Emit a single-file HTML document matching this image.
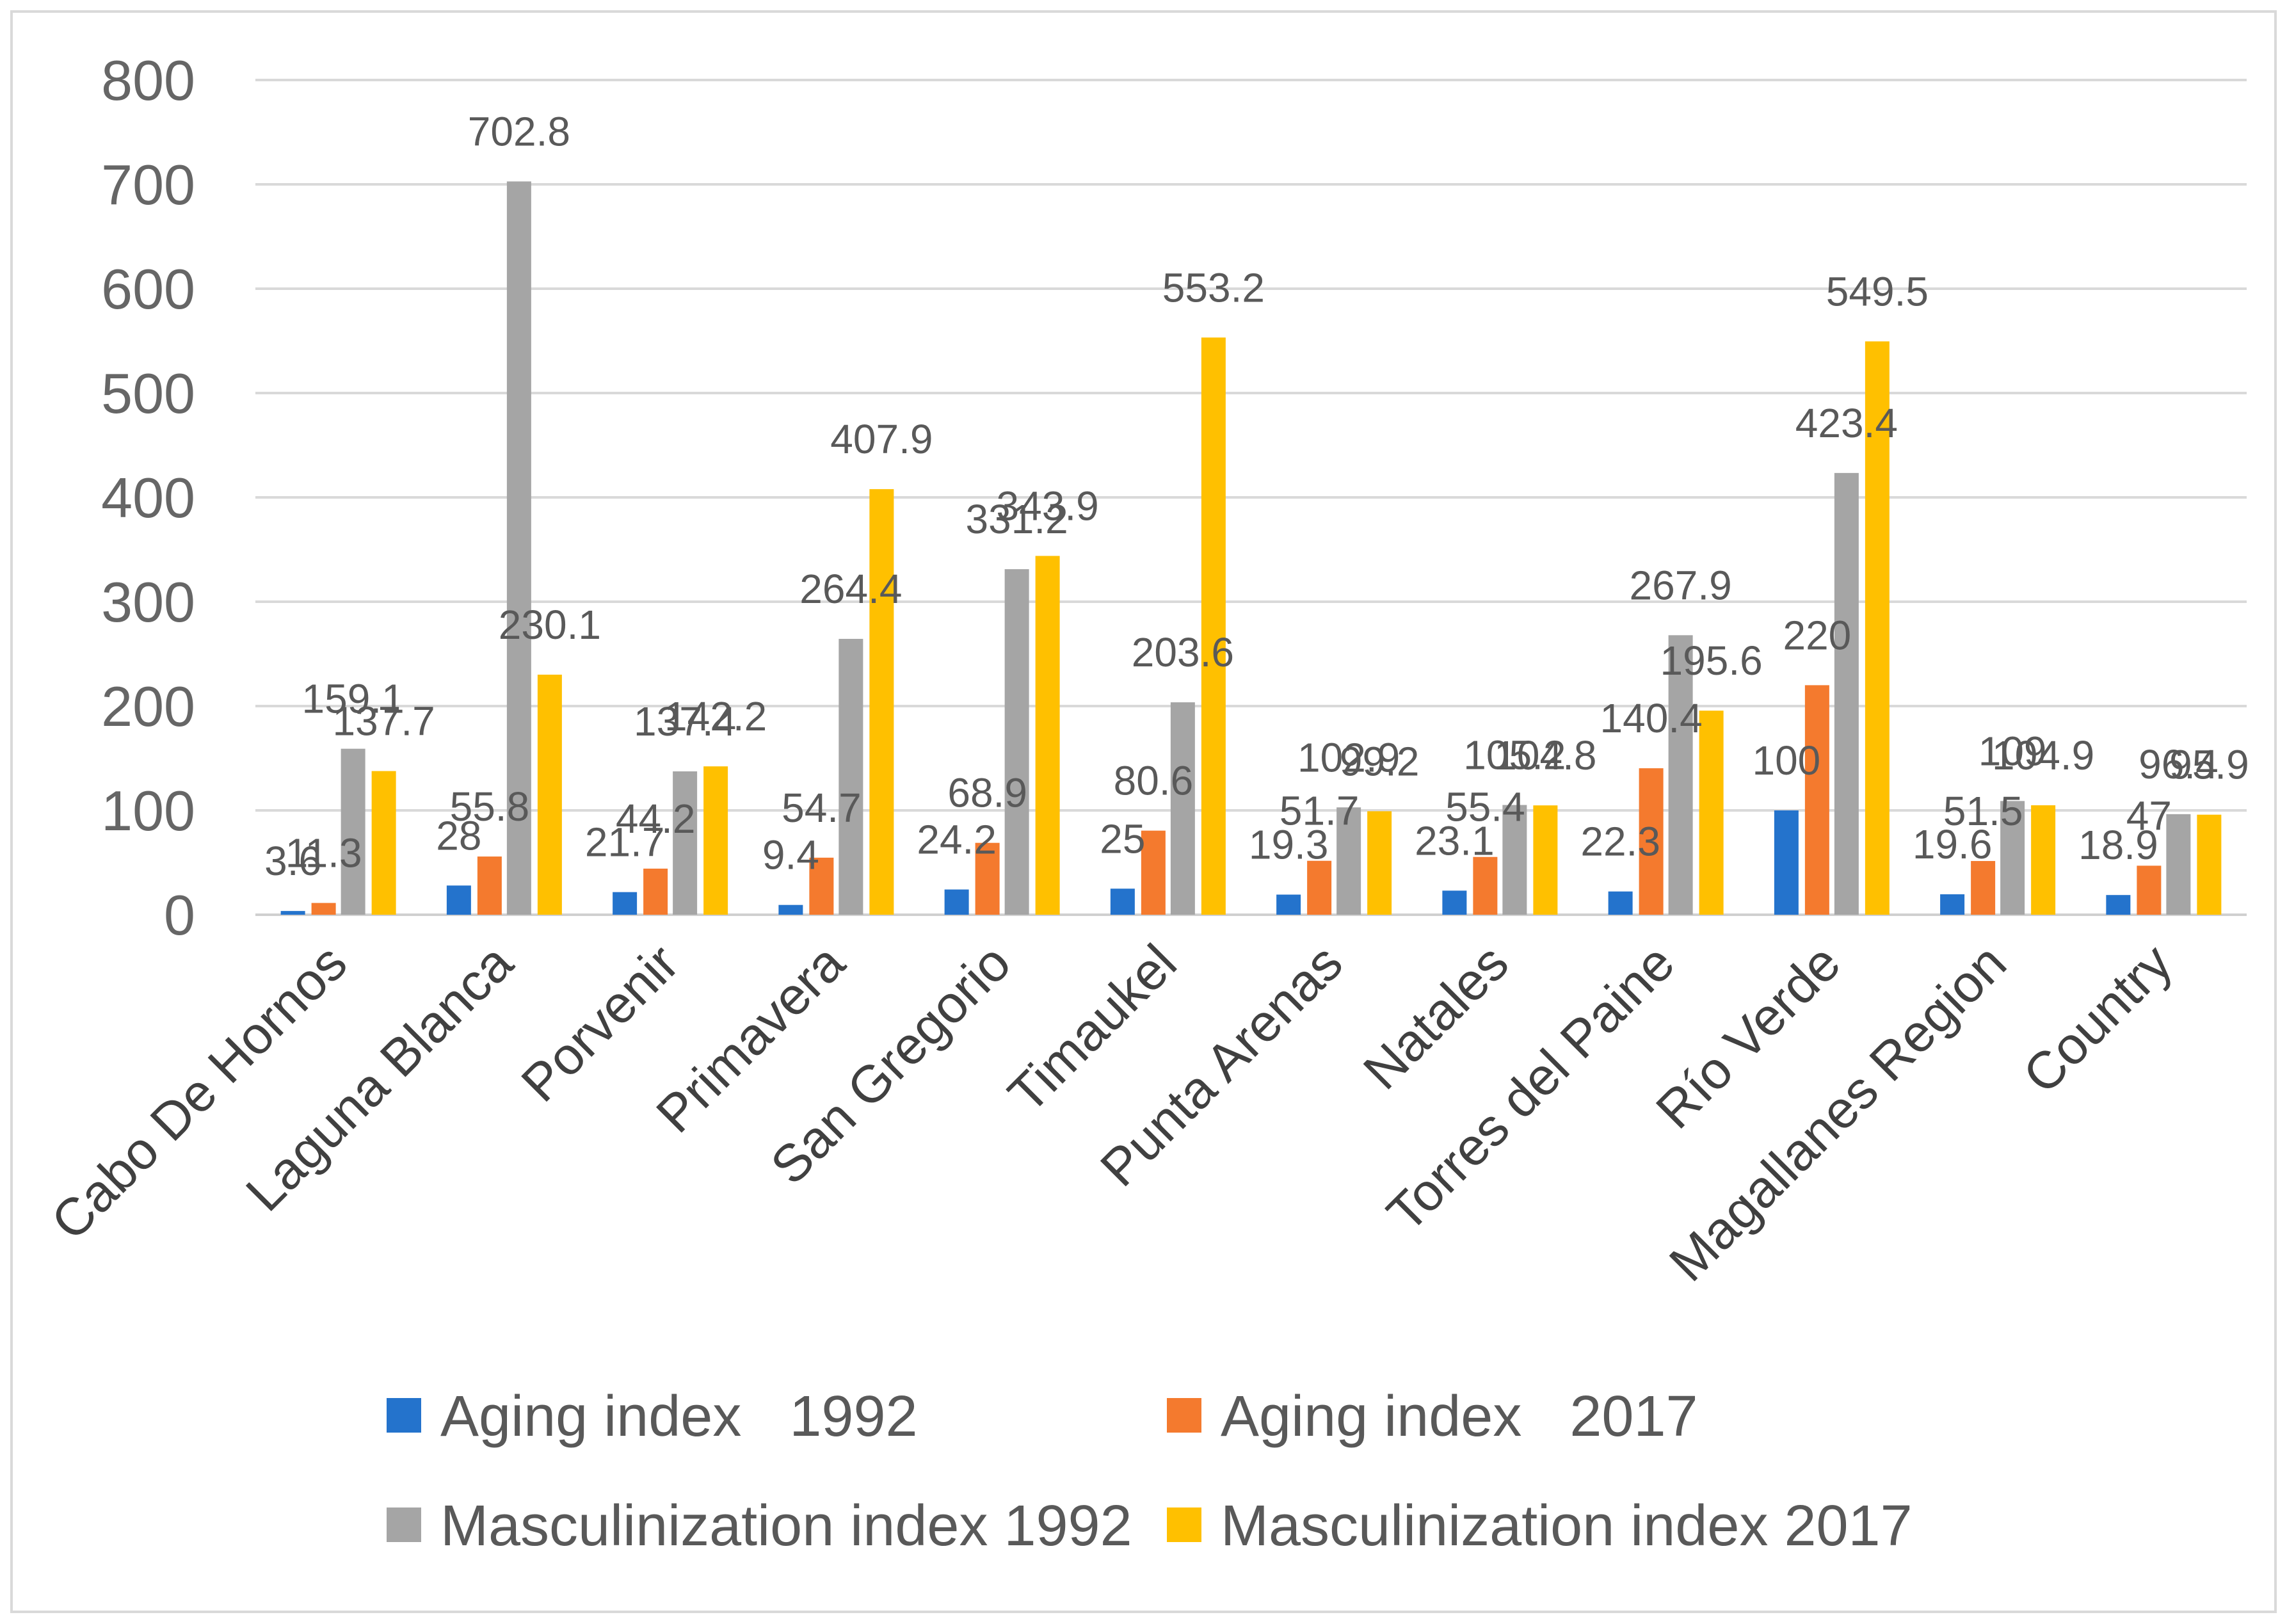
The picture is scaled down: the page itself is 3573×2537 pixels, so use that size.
<!DOCTYPE html>
<html><head><meta charset="utf-8"><style>
html,body{margin:0;padding:0;background:#fff;}
svg{display:block;font-family:"Liberation Sans",sans-serif;}
text{white-space:pre;}
</style></head><body>
<svg id="chart" width="3573" height="2537" viewBox="0 0 3573 2537" xmlns="http://www.w3.org/2000/svg">
<rect x="18" y="18" width="3537" height="2500" fill="#fff" stroke="#d9d9d9" stroke-width="4"/>
<g id="grid"></g><g id="bars"></g><g id="labels"></g><g id="cats"></g>
<g id="legend"></g>
</svg>
<script>
const categories=["Cabo De Hornos","Laguna Blanca","Porvenir","Primavera","San Gregorio","Timaukel","Punta Arenas","Natales","Torres del Paine","Río Verde","Magallanes Region","Country"];
const aging1992=[3.6,28,21.7,9.4,24.2,25,19.3,23.1,22.3,100,19.6,18.9];
const aging2017=[11.3,55.8,44.2,54.7,68.9,80.6,51.7,55.4,140.4,220,51.5,47];
const masc1992=[159.1,702.8,137.4,264.4,331.2,203.6,102.9,105.2,267.9,423.4,109,96.4];
const masc2017=[137.7,230.1,142.2,407.9,343.9,553.2,99.2,104.8,195.6,549.5,104.9,95.9];
const seriesNames=["Aging index   1992","Aging index   2017","Masculinization index 1992","Masculinization index 2017"];
const yTicks=[0,100,200,300,400,500,600,700,800];

const NS="http://www.w3.org/2000/svg";
const colors=["#2473cc","#f47a2e","#a5a5a5","#ffc000"];
const X0=399,X1=3510,Y0=1429,Y800=125;
const gw=(X1-X0)/categories.length;
const y=v=>Y0-(v/800)*(Y0-Y800);
const xc=i=>X0+gw*(i+0.5);
const offs=[-71,-23,23,71],bw=38;
function mk(tag,attrs,parent,txt){const e=document.createElementNS(NS,tag);for(const k in attrs)e.setAttribute(k,attrs[k]);if(txt!==undefined)e.textContent=txt;document.getElementById(parent).appendChild(e);return e;}
yTicks.forEach(t=>{
 const l=mk("line",{x1:X0,x2:X1,y1:y(t),y2:y(t),stroke:t===0?"#d0d0d0":"#d9d9d9","stroke-width":4},"grid");
 
 
 const tx=mk("text",{x:305,y:y(t)+31,"text-anchor":"end","font-size":88,fill:"#666"},"grid",String(t));
 
 
});
const all=[aging1992,aging2017,masc1992,masc2017];
categories.forEach((c,i)=>{
 all.forEach((s,k)=>{
  const cx=xc(i)+offs[k];
  const r=mk("rect",{x:cx-bw/2,y:y(s[i]),width:bw,height:Y0-y(s[i]),fill:colors[k]},"bars");
  
  
  const t=mk("text",{x:cx,y:y(s[i])-56,"text-anchor":"middle","font-size":64,fill:"#595959"},"labels",String(s[i]));
  
  
 });
 const cx=xc(i)+18,cy=1510;
 const t=mk("text",{x:cx,y:cy,"text-anchor":"end","font-size":82,fill:"#404040",transform:`rotate(-45 ${cx} ${cy})`},"cats",c);
 
 
});
const lp=[[604,2211],[1823,2211],[604,2382],[1823,2382]];
seriesNames.forEach((n,k)=>{
 const r=mk("rect",{x:lp[k][0],y:lp[k][1]-27,width:54,height:54,fill:colors[k]},"legend");
 
 
 const t=mk("text",{x:lp[k][0]+84,y:lp[k][1]+32,"font-size":90,fill:"#595959"},"legend",n);
 
 
});
</script>
</body></html>
